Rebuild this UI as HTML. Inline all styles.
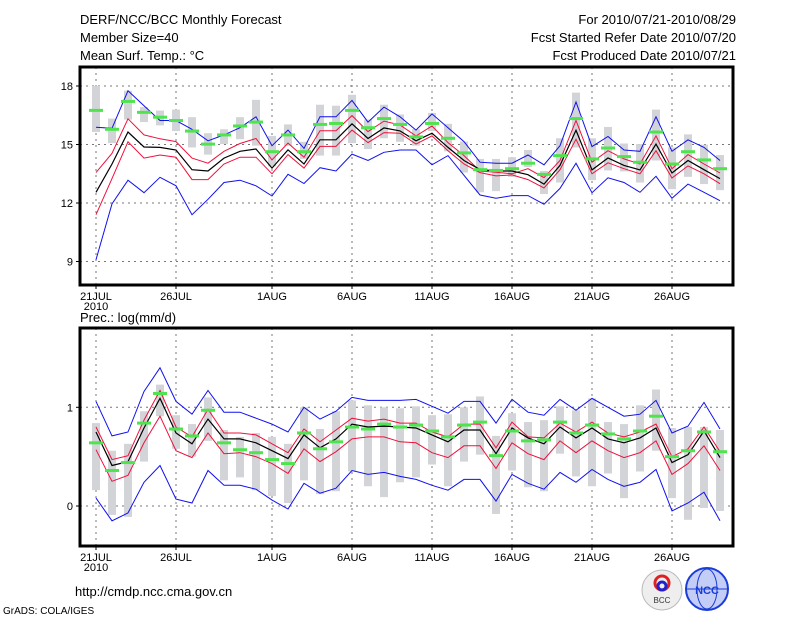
<!DOCTYPE html>
<html><head><meta charset="utf-8"><style>
body{margin:0;background:#fff;}
svg{display:block;font-family:"Liberation Sans",sans-serif;}
</style></head><body>
<svg id="c" width="800" height="618" viewBox="0 0 800 618" xmlns="http://www.w3.org/2000/svg">
<rect width="800" height="618" fill="#fff"/>
<g font-size="13" fill="#000">
<text x="80" y="24">DERF/NCC/BCC Monthly Forecast</text>
<text x="80" y="42">Member Size=40</text>
<text x="80" y="60">Mean Surf. Temp.: °C</text>
<text x="736" y="24" text-anchor="end">For 2010/07/21-2010/08/29</text>
<text x="736" y="42" text-anchor="end">Fcst Started Refer Date 2010/07/20</text>
<text x="736" y="60" text-anchor="end">Fcst Produced Date 2010/07/21</text>
<text x="80" y="322">Prec.: log(mm/d)</text>
<text x="75" y="596">http://cmdp.ncc.cma.gov.cn</text>
<text x="3" y="614" font-size="10">GrADS: COLA/IGES</text>
</g>
<g>
<circle cx="662" cy="590" r="20" fill="#eee" stroke="#bbb"/>
<circle cx="662" cy="583" r="7" fill="none" stroke="#d22" stroke-width="3"/>
<circle cx="662" cy="586" r="4" fill="none" stroke="#22c" stroke-width="3"/>
<text x="662" y="603" font-size="8" text-anchor="middle" fill="#333">BCC</text>
</g>
<g>
<circle cx="707" cy="589" r="21" fill="#c4cdf6" stroke="#1a3cd8" stroke-width="2"/>
<ellipse cx="707" cy="589" rx="10" ry="20" fill="none" stroke="#1a3cd8"/>
<line x1="686" y1="589" x2="728" y2="589" stroke="#1a3cd8"/>
<text x="707" y="594" font-size="11" font-weight="bold" text-anchor="middle" fill="#1a3cd8">NCC</text>
</g>
<g id="plots"></g>
</svg>
<script>
const days=["21JUL","26JUL","1AUG","6AUG","11AUG","16AUG","21AUG","26AUG"];
const tickDays=[0,5,11,16,21,26,31,36];
// Temperature panel
const tBlueHi=[15.88,15.83,17.76,16.99,16.23,16.23,15.78,15.19,15.49,15.86,16.42,14.94,15.74,14.8,16.42,16.42,17.26,16.15,16.92,16.42,15.74,16.57,15.86,15.15,14.09,14.04,14.04,14.46,13.96,14.94,17.18,14.89,15.41,14.72,14.65,16.42,14.65,15.24,14.85,14.18];
const tRedHi=[13.56,14.55,16.32,15.49,15.29,15.15,14.3,14.04,14.65,15.05,15.31,14.21,15.07,14.35,15.71,15.71,16.48,15.66,16.2,16.0,15.44,15.95,15.1,14.43,13.64,13.58,13.5,13.76,13.3,14.18,16.23,14.09,14.68,14.26,14.0,15.44,13.76,14.48,14.0,13.54];
const tMean=[12.55,14.0,15.64,14.87,14.85,14.72,13.71,13.64,14.3,14.65,14.77,13.79,14.73,14.0,15.24,15.24,16.06,15.31,15.85,15.7,15.19,15.58,14.85,14.18,13.72,13.64,13.64,13.45,12.97,13.93,15.73,13.7,14.31,13.93,13.7,15.02,13.54,14.18,13.71,13.25];
const tRedLo=[11.4,13.25,15.14,14.3,14.46,14.35,13.2,13.2,14.0,14.35,14.35,13.5,14.48,13.79,14.9,14.9,15.74,15.1,15.61,15.58,15.02,15.44,14.68,14.0,13.56,13.39,13.44,13.2,12.77,13.71,15.27,13.5,14.06,13.76,13.5,14.68,13.28,13.9,13.5,12.99];
const tBlueLo=[9.09,11.96,13.17,12.53,13.32,12.88,11.4,12.19,13.05,13.17,12.88,12.36,13.47,13.0,13.81,13.64,14.51,14.18,14.6,14.72,14.72,13.96,14.43,13.42,12.41,12.24,12.38,12.38,11.94,12.75,14.04,12.53,13.29,13.05,12.55,13.37,12.24,12.97,12.55,12.12];
const tGreen=[16.75,15.78,17.21,16.65,16.4,16.23,15.69,15.02,15.49,15.95,16.15,14.63,15.49,14.63,16.03,16.08,16.75,15.86,16.33,16.03,15.39,16.08,15.32,14.57,13.71,13.67,13.76,14.04,13.47,14.43,16.33,14.26,14.82,14.38,14.09,15.64,14.0,14.63,14.21,13.76];
const tBarHi=[18.0,16.33,17.76,16.92,16.74,16.79,16.4,15.58,15.78,16.4,17.29,15.44,16.03,15.14,17.04,16.99,17.55,16.28,17.04,16.54,15.78,16.62,16.06,15.15,14.26,14.26,14.35,14.72,13.64,15.32,17.66,15.32,15.9,15.05,15.02,16.79,14.85,15.52,14.99,14.46];
const tBarLo=[15.64,15.07,16.28,16.15,15.98,15.69,14.85,14.48,15.02,15.27,14.94,13.88,14.94,14.26,14.43,14.43,15.07,14.77,15.32,15.14,14.94,15.69,14.65,13.56,12.55,12.61,13.34,13.84,12.46,13.05,14.85,13.17,13.67,13.62,13.05,14.18,12.71,13.34,12.97,12.66];
const tTicks=[9,12,15,18];
// Precip panel
const pBlueHi=[1.06,0.71,0.75,1.16,1.40,1.06,0.93,1.17,0.95,0.95,0.89,0.83,0.75,1.0,0.88,0.96,1.10,1.07,1.07,1.07,1.08,1.01,0.94,1.06,1.06,0.84,1.08,0.95,0.92,1.08,0.97,1.09,1.0,0.91,0.93,1.07,0.74,0.81,1.05,0.78];
const pRedHi=[0.80,0.47,0.51,0.87,1.17,0.80,0.70,0.98,0.74,0.74,0.72,0.63,0.54,0.78,0.65,0.77,0.89,0.86,0.88,0.84,0.84,0.75,0.70,0.83,0.83,0.59,0.85,0.70,0.69,0.84,0.75,0.85,0.74,0.70,0.75,0.83,0.50,0.58,0.80,0.55];
const pMean=[0.75,0.41,0.45,0.79,1.09,0.74,0.63,0.88,0.68,0.68,0.64,0.56,0.48,0.72,0.59,0.68,0.83,0.80,0.81,0.80,0.79,0.72,0.65,0.77,0.77,0.53,0.79,0.69,0.63,0.80,0.69,0.79,0.68,0.64,0.69,0.79,0.44,0.52,0.76,0.49];
const pRedLo=[0.57,0.25,0.31,0.64,0.91,0.56,0.49,0.74,0.53,0.54,0.50,0.43,0.33,0.58,0.45,0.55,0.68,0.70,0.70,0.65,0.64,0.54,0.49,0.61,0.61,0.38,0.64,0.53,0.47,0.66,0.54,0.66,0.56,0.49,0.54,0.66,0.32,0.43,0.61,0.36];
const pBlueLo=[0.08,-0.15,-0.07,0.24,0.41,0.07,0.03,0.36,0.21,0.21,0.17,0.06,-0.03,0.23,0.13,0.18,0.36,0.32,0.34,0.30,0.27,0.21,0.16,0.27,0.27,0.05,0.32,0.23,0.17,0.34,0.24,0.37,0.27,0.20,0.24,0.37,-0.05,0.03,0.14,-0.15];
const pGreen=[0.64,0.36,0.44,0.84,1.14,0.78,0.71,0.97,0.64,0.57,0.54,0.47,0.43,0.74,0.58,0.65,0.80,0.78,0.83,0.80,0.82,0.76,0.70,0.82,0.85,0.51,0.76,0.66,0.67,0.85,0.74,0.82,0.73,0.68,0.76,0.91,0.50,0.56,0.75,0.55];
const pBarHi=[0.84,0.56,0.63,0.96,1.23,0.92,0.83,1.10,0.77,0.70,0.74,0.70,0.63,1.0,0.78,0.96,1.07,1.02,1.0,0.99,1.01,0.92,0.93,1.0,1.11,0.71,0.94,0.85,0.87,1.01,0.97,1.09,0.85,0.83,1.02,1.18,0.79,0.80,0.80,0.77];
const pBarLo=[0.16,-0.09,-0.11,0.45,0.91,0.58,0.50,0.66,0.26,0.29,0.16,0.10,0.03,0.26,0.12,0.15,0.35,0.20,0.09,0.24,0.29,0.42,0.20,0.45,0.52,-0.08,0.36,0.19,0.15,0.53,0.30,0.20,0.33,0.08,0.35,0.56,0.08,-0.14,-0.02,-0.05];
const pTicks=[0,1];

const NS="http://www.w3.org/2000/svg";
const root=document.getElementById('plots');
const X=d=>96+16*d;
function el(tag,attrs,parent){const e=document.createElementNS(NS,tag);for(const k in attrs)e.setAttribute(k,attrs[k]);(parent||root).appendChild(e);return e;}

function panel(name,top,bottom,vmin,vmax,ticks,yOf,S){
  const g=el('g',{});
  
  
  tickDays.forEach((d,i)=>{
    const l=el('line',{x1:X(d),x2:X(d),y1:top,y2:bottom,stroke:'#777','stroke-dasharray':'2,4'},g);
    
    
    const t=el('line',{x1:X(d),x2:X(d),y1:bottom,y2:bottom+4,stroke:'#000'},g);
    
    
    const lb=el('text',{x:X(d),y:bottom+15,'font-size':'11','text-anchor':'middle'},g);
    lb.textContent=days[i];
    
    
  });
  const y2010=el('text',{x:X(0),y:bottom+25,'font-size':'11','text-anchor':'middle'},g);
  y2010.textContent='2010';
  
  
  ticks.forEach(v=>{
    const y=yOf(v);
    const l=el('line',{x1:80,x2:733,y1:y,y2:y,stroke:'#777','stroke-dasharray':'2,4'},g);
    
    
    const t=el('line',{x1:76,x2:80,y1:y,y2:y,stroke:'#000'},g);
    
    
    const lb=el('text',{x:73,y:y+4,'font-size':'11','text-anchor':'end'},g);
    lb.textContent=String(v);
    
    
  });
  S.barHi.forEach((hi,i)=>{
    const y1=yOf(hi),y2=yOf(S.barLo[i]);
    const r=el('rect',{x:X(i)-4,y:y1,width:8,height:y2-y1,fill:'#d3d4d8'},g);
    
    
  });
  const line=(arr,col,nm,w)=>{
    const p=el('polyline',{points:arr.map((v,i)=>X(i)+','+yOf(v).toFixed(1)).join(' '),fill:'none',stroke:col,'stroke-width':w||1},g);
    
    
  };
  line(S.blueHi,'#1010f0','upper-extreme-line');
  line(S.blueLo,'#1010f0','lower-extreme-line');
  line(S.redHi,'#f0103c','upper-std-line');
  line(S.redLo,'#f0103c','lower-std-line');
  line(S.mean,'#000','ensemble-mean-line',1.2);
  S.green.forEach((v,i)=>{
    const r=el('rect',{x:X(i)-7,y:yOf(v)-1.5,width:14,height:3,fill:'#4ee44e'},g);
    
    
  });
  const f=el('rect',{x:80,y:top,width:653,height:bottom-top,fill:'none',stroke:'#000','stroke-width':3},g);
  
  
}
panel('temperature-panel',67,285,9,18,tTicks,v=>86+(18-v)*19.5,
  {blueHi:tBlueHi,blueLo:tBlueLo,redHi:tRedHi,redLo:tRedLo,mean:tMean,green:tGreen,barHi:tBarHi,barLo:tBarLo});
panel('precipitation-panel',328,546,0,1,pTicks,v=>407.3+(1-v)*98.7,
  {blueHi:pBlueHi,blueLo:pBlueLo,redHi:pRedHi,redLo:pRedLo,mean:pMean,green:pGreen,barHi:pBarHi,barLo:pBarLo});
</script>
</body></html>
